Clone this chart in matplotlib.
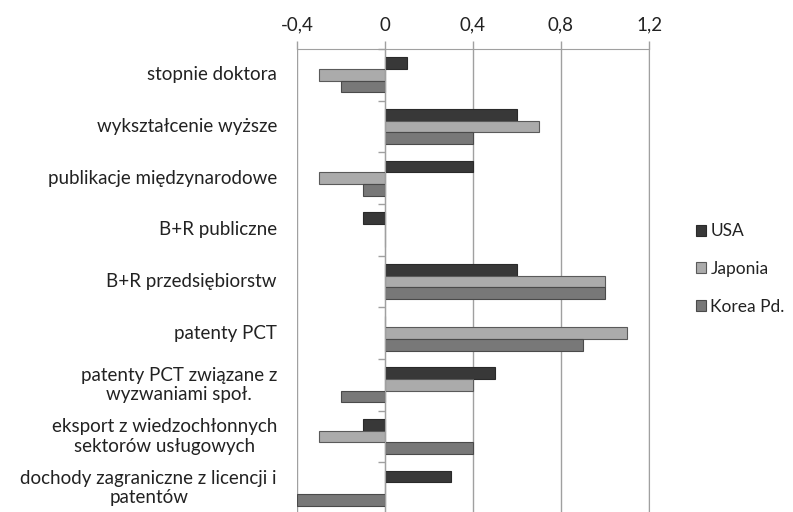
import matplotlib
matplotlib.use("Agg")
import matplotlib.pyplot as plt
from matplotlib.patches import Patch
import numpy as np

categories = [
    "stopnie doktora",
    "wykształcenie wyższe",
    "publikacje międzynarodowe",
    "B+R publiczne",
    "B+R przedsiębiorstw",
    "patenty PCT",
    "patenty PCT związane z\nwyzwaniami społ.",
    "eksport z wiedzochłonnych\nsektorów usługowych",
    "dochody zagraniczne z licencji i\npatentów",
]
series_names = ["USA", "Japonia", "Korea Pd."]
usa = [0.10, 0.60, 0.40, -0.10, 0.60, 0.00, 0.50, -0.10, 0.30]
japonia = [-0.30, 0.70, -0.30, 0.00, 1.00, 1.10, 0.40, -0.30, 0.00]
korea = [-0.20, 0.40, -0.10, 0.00, 1.00, 0.90, -0.20, 0.40, -0.40]
x_ticks = [-0.4, 0, 0.4, 0.8, 1.2]
x_tick_labels = ["-0,4", "0", "0,4", "0,8", "1,2"]

colors = ["#383838", "#ababab", "#787878"]
edges = ["#2a2a2a", "#5a5a5a", "#4a4a4a"]

plt.rcParams['font.family'] = ['Lato', 'DejaVu Sans']
FS = 13.5

fig = plt.figure(figsize=(7.93, 5.12), dpi=100)
W, H = 793, 512
left_px, right_px, top_px, bottom_px = 297, 649, 49, 514
ax = fig.add_axes([left_px / W, 1 - bottom_px / H, (right_px - left_px) / W, (bottom_px - top_px) / H])

n = len(categories)
y = np.arange(n)
h = 0.225
for vals, off, c, ec, name in zip([usa, japonia, korea], [-h, 0, h], colors, edges, series_names):
    ax.barh(y + off, vals, height=h, color=c, edgecolor=ec, linewidth=0.8, label=name, zorder=3)

ax.set_xlim(-0.4, 1.2)
ax.set_ylim(n - 0.5, -0.5)

ax.xaxis.tick_top()
ax.set_xticks(x_ticks)
ax.set_xticklabels(x_tick_labels, fontsize=FS, color="#222222")
ax.tick_params(axis='x', direction='out', length=6, width=1, color="#a0a0a0", pad=5)
ax.grid(axis='x', color="#a0a0a0", linewidth=1, zorder=0)
ax.set_axisbelow(True)

ax.spines['bottom'].set_visible(False)
ax.spines['top'].set_color("#a0a0a0")
ax.spines['right'].set_color("#a0a0a0")
ax.spines['left'].set_position(('data', 0))
ax.spines['left'].set_color("#a0a0a0")
ax.spines['left'].set_zorder(4)

ax.set_yticks(np.arange(n + 1) - 0.5)
ax.set_yticklabels([])
ax.tick_params(axis='y', direction='out', length=5, width=1, color="#a0a0a0")

label_x = (277 - left_px) / (right_px - left_px)
for i, cat in enumerate(categories):
    ax.text(label_x, i, cat, transform=ax.get_yaxis_transform(), ha='right', va='center',
            multialignment='center', fontsize=FS, color="#222222", linespacing=1.15)

handles = [Patch(facecolor=c, edgecolor=ec, linewidth=0.8) for c, ec in zip(colors, edges)]
fig.legend(handles, series_names, loc='center left', bbox_to_anchor=(680 / W, 1 - 269 / H),
           frameon=False, fontsize=12.5, handlelength=0.6, handleheight=0.6,
           handletextpad=0.25, labelspacing=1.25, labelcolor="#222222")

fig.savefig("out.png", dpi=100)
